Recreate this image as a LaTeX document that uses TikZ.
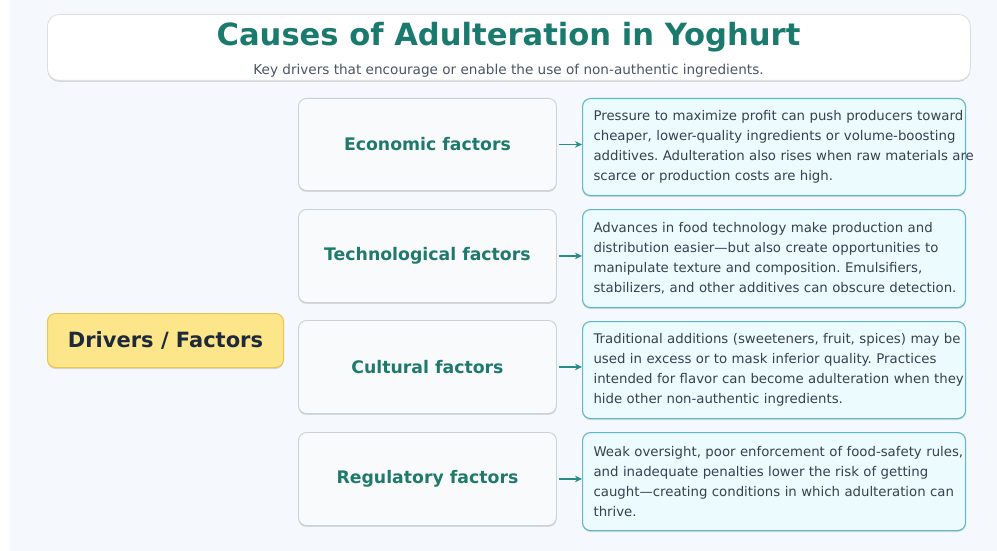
\documentclass[tikz,border=0pt]{standalone}
\usepackage{fontspec}
\setmainfont{DejaVu Sans}
\usetikzlibrary{arrows.meta,shadows}
\frenchspacing

\definecolor{pagebg}{HTML}{F5F8FC}
\definecolor{titleteal}{HTML}{1B7A6E}
\definecolor{subgray}{HTML}{4B5563}
\definecolor{factorteal}{HTML}{1F7A6C}
\definecolor{factorfill}{HTML}{F9FAFB}
\definecolor{factorline}{HTML}{C8D2D8}
\definecolor{descfill}{HTML}{ECFBFD}
\definecolor{descline}{HTML}{5DB9C8}
\definecolor{desctext}{HTML}{374151}
\definecolor{driverfill}{HTML}{FDE68A}
\definecolor{driverline}{HTML}{EBC54C}
\definecolor{drivertext}{HTML}{1E293B}
\definecolor{arrowteal}{HTML}{2A8C88}

\tikzset{
  softshadow/.style={drop shadow={shadow xshift=0pt,shadow yshift=-1.5pt,opacity=0.4,fill=gray!70}},
  headerbox/.style={draw=gray!25,line width=0.8pt,fill=white,rounded corners=12pt,softshadow,
    anchor=north west,minimum width=923pt,minimum height=66pt,inner sep=0pt},
  driverbox/.style={draw=driverline,line width=1pt,fill=driverfill,rounded corners=8pt,softshadow,
    anchor=north west,minimum width=236pt,minimum height=54pt,inner sep=0pt,
    font=\bfseries\fontsize{21}{24}\selectfont,text=drivertext},
  factorbox/.style={draw=factorline,line width=0.9pt,fill=factorfill,rounded corners=8pt,softshadow,
    anchor=north west,minimum width=258pt,inner sep=0pt,
    font=\bfseries\fontsize{17.3}{20}\selectfont,text=factorteal},
  descbox/.style={draw=descline,line width=1.1pt,fill=descfill,rounded corners=8pt,softshadow,
    anchor=north west,text width=361pt,inner xsep=11pt,inner ysep=0pt,align=left,
    font=\fontsize{13.3}{20}\selectfont,text=desctext},
  link/.style={draw=arrowteal,line width=1.8pt,-{Stealth[length=7pt,width=6.5pt]}}
}

\begin{document}
\begin{tikzpicture}[x=1pt,y=-1pt]
  % page and background
  \useasboundingbox (0,0) rectangle (997,551);
  \fill[white] (0,0) rectangle (997,551);
  \fill[pagebg] (10,0) rectangle (997,551);

  % header
  \node[headerbox] (header) at (47,14) {};
  \node[font=\bfseries\fontsize{30.6}{34}\selectfont,text=titleteal] (title) at (508.5,37)
    {Causes of Adulteration in Yoghurt};
  \node[font=\fontsize{13.6}{16}\selectfont,text=subgray] (subtitle) at (508.5,71)
    {Key drivers that encourage or enable the use of non-authentic ingredients.};

  % root node
  \node[driverbox] (drivers) at (47,313) {Drivers / Factors};

  % factor boxes
  \node[factorbox,minimum height=92pt] (econ) at (298,98) {Economic factors};
  \node[factorbox,minimum height=93pt] (tech) at (298,209) {Technological factors};
  \node[factorbox,minimum height=93pt] (cult) at (298,320) {Cultural factors};
  \node[factorbox,minimum height=93pt] (reg)  at (298,432) {Regulatory factors};

  % descriptions (each line kept whole)
  \node[descbox,minimum height=97pt] (econd) at (582,98)
    {\mbox{Pressure to maximize profit can push producers toward}\\
     \mbox{cheaper, lower-quality ingredients or volume-boosting}\\
     \mbox{additives. Adulteration also rises when raw materials are}\\
     \mbox{scarce or production costs are high.}};
  \node[descbox,minimum height=98pt] (techd) at (582,209)
    {\mbox{Advances in food technology make production and}\\
     \mbox{distribution easier---but also create opportunities to}\\
     \mbox{manipulate texture and composition. Emulsifiers,}\\
     \mbox{stabilizers, and other additives can obscure detection.}};
  \node[descbox,minimum height=97pt] (cultd) at (582,321)
    {\mbox{Traditional additions (sweeteners, fruit, spices) may be}\\
     \mbox{used in excess or to mask inferior quality. Practices}\\
     \mbox{intended for flavor can become adulteration when they}\\
     \mbox{hide other non-authentic ingredients.}};
  \node[descbox,minimum height=98pt] (regd) at (582,432)
    {\mbox{Weak oversight, poor enforcement of food-safety rules,}\\
     \mbox{and inadequate penalties lower the risk of getting}\\
     \mbox{caught---creating conditions in which adulteration can}\\
     \mbox{thrive.}};

  % connectors
  \draw[link] ([xshift=2pt]econ.east) -- (econd.west |- econ.east);
  \draw[link] ([xshift=2pt]tech.east) -- (techd.west |- tech.east);
  \draw[link] ([xshift=2pt]cult.east) -- (cultd.west |- cult.east);
  \draw[link] ([xshift=2pt]reg.east)  -- (regd.west |- reg.east);
\end{tikzpicture}
\end{document}
